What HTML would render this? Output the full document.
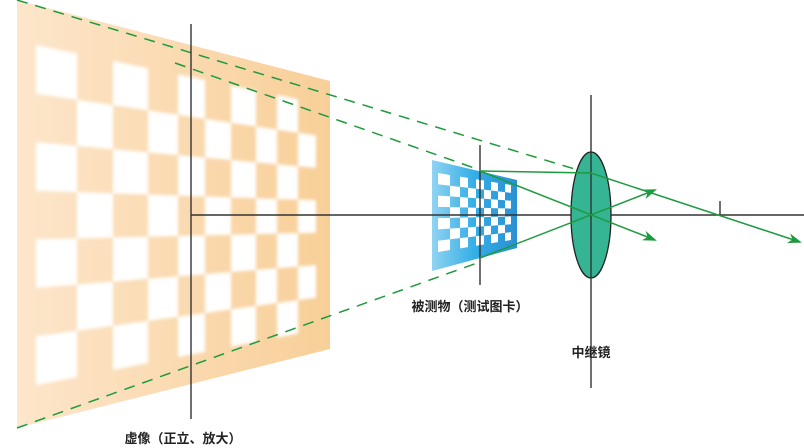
<!DOCTYPE html>
<html><head><meta charset="utf-8"><style>
html,body{margin:0;padding:0;background:#fff;}
svg{display:block}
text{font-family:"Liberation Sans","Noto Sans CJK SC",sans-serif;font-weight:bold;font-size:13px;fill:#222}
</style></head><body>
<svg id="s" width="804" height="448" viewBox="0 0 804 448" xmlns="http://www.w3.org/2000/svg">
<defs>
<linearGradient id="og" x1="0" x2="1" y1="0" y2="0"><stop offset="0" stop-color="#fde6cb"/><stop offset="1" stop-color="#f8cf98"/></linearGradient>
<linearGradient id="bg" x1="0" x2="1" y1="0" y2="0"><stop offset="0" stop-color="#90d3f2"/><stop offset="0.5" stop-color="#33aee6"/><stop offset="1" stop-color="#2a8fd4"/></linearGradient>
<filter id="bl" x="-0.1" y="-0.1" width="1.2" height="1.2"><feGaussianBlur stdDeviation="1.6"/></filter>
<marker id="ar" markerWidth="14" markerHeight="10" refX="12" refY="5" orient="auto" markerUnits="userSpaceOnUse"><path d="M0,0 L14,5 L0,10 L4,5 Z" fill="#1e9a3e"/></marker>
</defs>
<polygon points="17,0 330,81 330,349 17,428" fill="url(#og)"/>
<g id="big" fill="#fff" filter="url(#bl)"></g>
<polygon points="432,160 517,180 517,248 432,271" fill="url(#bg)"/>
<g id="small" fill="#fff"></g>
<g stroke="#1e9a3e" stroke-width="1.5" stroke-dasharray="11,8" fill="none">
<line x1="17" y1="0" x2="578" y2="170"/>
<line x1="175" y1="63" x2="480" y2="170"/>
<line x1="17" y1="428" x2="480" y2="262"/>
</g>
<g stroke="#333" stroke-width="1.4">
<line x1="191" y1="24" x2="191" y2="419"/>
<line x1="191" y1="215" x2="804" y2="215"/>
<line x1="480" y1="145" x2="480" y2="285"/>
</g>
<ellipse cx="591" cy="215" rx="20" ry="63" fill="#35b593" stroke="#222" stroke-width="1.3"/>
<g stroke="#333" stroke-width="1.4">
<line x1="591" y1="95" x2="591" y2="388"/>
<line x1="720" y1="201" x2="720" y2="215"/>
</g>
<g stroke="#1e9a3e" stroke-width="1.5" fill="none">
<polyline points="480,171 591,173 800,242" marker-end="url(#ar)"/>
<line x1="480" y1="171" x2="655" y2="240" marker-end="url(#ar)"/>
<line x1="480" y1="258" x2="655" y2="190" marker-end="url(#ar)"/>
</g>
<text x="183" y="443" text-anchor="middle">虚像（正立、放大）</text>
<text x="470" y="311" text-anchor="middle">被测物（测试图卡）</text>
<text x="591" y="357" text-anchor="middle">中继镜</text>
</svg>
<script>
function board(g,xs,x0,x1,t0,t1,b0,b1,rows){
  var ns="http://www.w3.org/2000/svg";
  function top(x){return t0+(x-x0)*(t1-t0)/(x1-x0);}
  function bot(x){return b0+(x-x0)*(b1-b0)/(x1-x0);}
  for(var c=0;c<xs.length-1;c++){
    var xa=xs[c],xb=xs[c+1];
    for(var r=0;r<rows;r++){
      if((r+c)%2) continue;
      var ya0=top(xa)+(bot(xa)-top(xa))*r/rows, ya1=top(xa)+(bot(xa)-top(xa))*(r+1)/rows;
      var yb0=top(xb)+(bot(xb)-top(xb))*r/rows, yb1=top(xb)+(bot(xb)-top(xb))*(r+1)/rows;
      var p=document.createElementNS(ns,"polygon");
      p.setAttribute("points",xa+","+ya0+" "+xb+","+yb0+" "+xb+","+yb1+" "+xa+","+ya1);
      g.appendChild(p);
    }
  }
}
board(document.getElementById("big"),[36,77,113,148,178,205,231,256,277,298,316],36,316,45,103,385,330,7);
board(document.getElementById("small"),[438,450,460,468,476,484,491,498,505,511],438,511,173,185,252,240,7);
</script>
</body></html>
